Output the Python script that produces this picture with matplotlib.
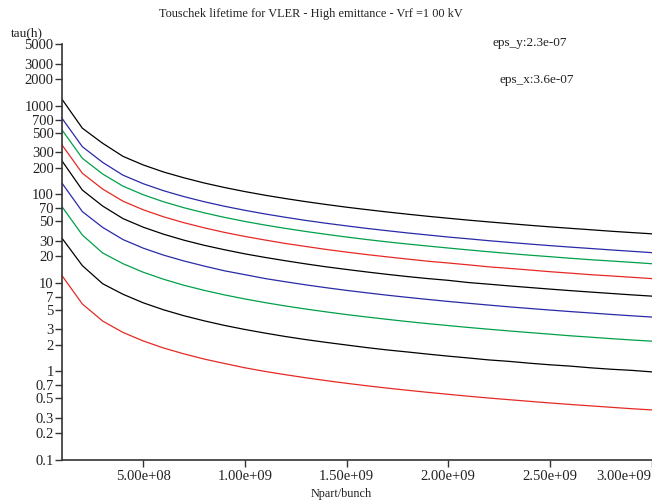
import matplotlib
matplotlib.use("Agg")
import matplotlib.pyplot as plt
from matplotlib.ticker import FixedLocator, NullLocator

# N particles per bunch (x 1e8)
npart = [k * 1e8 for k in range(1, 31)]

tau_1 = [1188, 560, 378, 269, 215, 179, 154, 134.5, 119.6, 107.6, 97.8, 89.7, 82.8, 76.9, 71.7,
         67.3, 63.3, 59.8, 56.6, 53.8, 51.2, 48.9, 46.8, 44.8, 43.0, 41.4, 39.9, 38.4, 37.1, 35.9]
tau_2 = [724, 346, 230, 165, 132, 110, 94.4, 82.6, 73.4, 66.1, 60.1, 55.1, 50.8, 47.2, 44.1,
         41.3, 38.9, 36.7, 34.8, 33.0, 31.5, 30.0, 28.7, 27.5, 26.4, 25.4, 24.5, 23.6, 22.8, 22.0]
tau_3 = [535, 256, 170, 124, 99.0, 82.5, 70.7, 61.9, 55.0, 49.5, 45.0, 41.3, 38.1, 35.4, 33.0,
         30.9, 29.1, 27.5, 26.1, 24.8, 23.6, 22.5, 21.5, 20.6, 19.8, 19.0, 18.3, 17.7, 17.1, 16.5]
tau_4 = [362, 173.5, 115, 83.8, 67.0, 55.8, 47.9, 41.9, 37.2, 33.5, 30.5, 27.9, 25.8, 23.9, 22.3,
         20.9, 19.7, 18.6, 17.6, 16.8, 16.0, 15.2, 14.6, 14.0, 13.4, 12.9, 12.4, 12.0, 11.6, 11.2]
tau_5 = [239, 112, 73.9, 53.3, 42.6, 35.5, 30.4, 26.6, 23.7, 21.3, 19.4, 17.8, 16.4, 15.2, 14.2,
         13.3, 12.5, 11.8, 11.2, 10.7, 10.1, 9.68, 9.26, 8.88, 8.52, 8.19, 7.89, 7.61, 7.34, 7.10]
tau_6 = [134, 64.0, 42.4, 30.9, 24.7, 20.6, 17.7, 15.5, 13.7, 12.4, 11.2, 10.3, 9.51, 8.83, 8.24,
         7.73, 7.27, 6.87, 6.51, 6.18, 5.89, 5.62, 5.37, 5.15, 4.94, 4.75, 4.58, 4.41, 4.26, 4.12]
tau_7 = [72.7, 34.8, 21.8, 16.5, 13.2, 11.0, 9.41, 8.24, 7.32, 6.59, 5.99, 5.49, 5.07, 4.71, 4.39,
         4.12, 3.88, 3.66, 3.47, 3.30, 3.14, 3.00, 2.87, 2.75, 2.64, 2.53, 2.44, 2.35, 2.27, 2.20]
tau_8 = [32.0, 15.7, 9.8, 7.45, 5.96, 4.97, 4.26, 3.73, 3.31, 2.98, 2.71, 2.48, 2.29, 2.13, 1.99,
         1.86, 1.75, 1.66, 1.57, 1.49, 1.42, 1.35, 1.30, 1.24, 1.19, 1.15, 1.10, 1.06, 1.03, 0.99]
tau_9 = [12.1, 5.79, 3.71, 2.76, 2.21, 1.84, 1.58, 1.38, 1.23, 1.10, 1.00, 0.919, 0.848, 0.788, 0.735,
         0.689, 0.649, 0.613, 0.581, 0.552, 0.525, 0.501, 0.480, 0.460, 0.441, 0.424, 0.409, 0.394, 0.380, 0.368]

series = [tau_1, tau_2, tau_3, tau_4, tau_5, tau_6, tau_7, tau_8, tau_9]
colors = ["#000000", "#2a2aa8", "#00a04a", "#e52a25",
          "#000000", "#2a2aa8", "#00a04a", "#000000", "#e52a25"]

yticks = [0.1, 0.2, 0.3, 0.5, 0.7, 1, 2, 3, 5, 7, 10, 20, 30, 50, 70,
          100, 200, 300, 500, 700, 1000, 2000, 3000, 5000]
ytick_labels = ["0.1", "0.2", "0.3", "0.5", "0.7", "1", "2", "3", "5", "7", "10", "20", "30", "50", "70",
                "100", "200", "300", "500", "700", "1000", "2000", "3000", "5000"]
xticks = [5e8, 1e9, 1.5e9, 2e9, 2.5e9, 3e9]
xtick_labels = ["5.00e+08", "1.00e+09", "1.50e+09", "2.00e+09", "2.50e+09", "3.00e+09"]

plt.rcParams["font.family"] = ["Liberation Serif", "DejaVu Serif"]

W, H = 652, 504
fig = plt.figure(figsize=(W / 100, H / 100), dpi=100)
ax = fig.add_axes([62 / W, 1 - 460 / H, (651.5 - 62) / W, (460 - 44) / H])

for s, c in zip(series, colors):
    ax.plot(npart, s, color=c, lw=0.9, solid_joinstyle="miter")

ax.set_yscale("log")
ax.set_xlim(1e8, 3e9)
ax.set_ylim(0.1, 5000)
ax.yaxis.set_major_locator(FixedLocator(yticks))
ax.yaxis.set_minor_locator(NullLocator())
ax.set_yticklabels(ytick_labels)
ax.xaxis.set_major_locator(FixedLocator(xticks))
ax.xaxis.set_minor_locator(NullLocator())
ax.set_xticklabels(xtick_labels)
labs = ax.get_xticklabels()
labs[-1].set_horizontalalignment("right")

for side in ("top", "right"):
    ax.spines[side].set_visible(False)
for side in ("left", "bottom"):
    ax.spines[side].set_linewidth(1.2)
    ax.spines[side].set_color("#333333")
ax.tick_params(axis="both", direction="out", length=5, width=1.0, color="#333333",
               labelsize=10.5, labelcolor="#222222", pad=1)
ax.tick_params(axis="x", pad=2)

fig.text(311 / W, 1 - 14 / H, "Touschek lifetime for VLER - High emittance - Vrf =1 00 kV",
         ha="center", va="center", fontsize=8.8, color="#222222")
fig.text(11 / W, 1 - 33 / H, "tau(h)", ha="left", va="center", fontsize=9.5, color="#222222")
fig.text(341 / W, 1 - 494 / H, "Npart/bunch", ha="center", va="center", fontsize=8.8, color="#222222")
fig.text(530 / W, 1 - 43 / H, "eps_y:2.3e-07", ha="center", va="center", fontsize=9.5, color="#222222")
fig.text(537 / W, 1 - 80 / H, "eps_x:3.6e-07", ha="center", va="center", fontsize=9.5, color="#222222")

fig.savefig("out.png", dpi=100)
